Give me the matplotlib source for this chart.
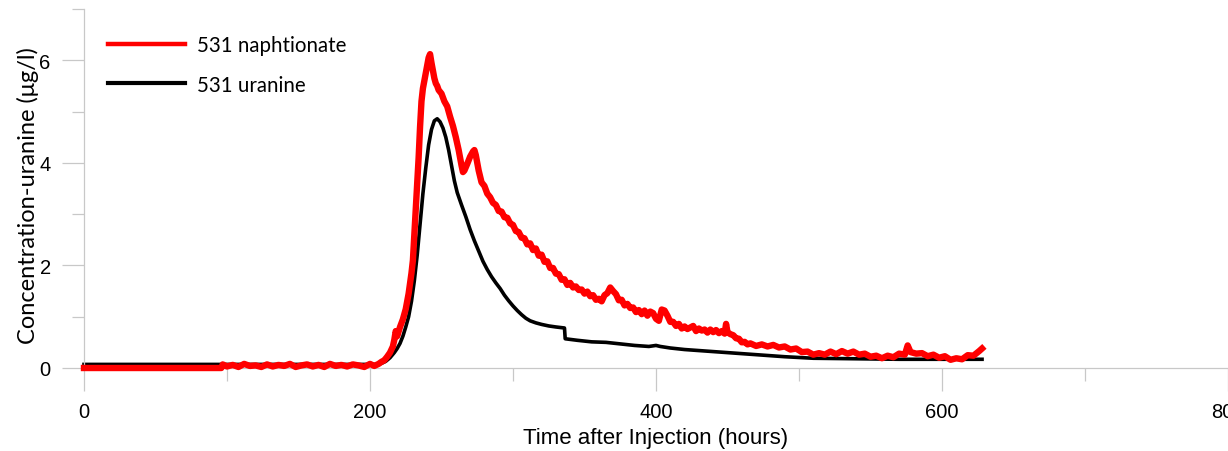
import matplotlib
matplotlib.use("Agg")
import matplotlib.pyplot as plt
from matplotlib.ticker import MultipleLocator
from matplotlib.lines import Line2D

# ---------------- data ----------------
series_names = ["531 naphtionate", "531 uranine"]

naph_hours = [0, 96, 97, 100, 104, 108, 112, 116, 120, 124, 128, 132, 136, 140, 144,
              148, 152, 156, 160, 164, 168, 172, 176, 180, 184, 188, 192, 196, 200, 203,
              206, 208, 210, 212, 214, 216, 217, 218, 219, 221, 223, 225, 227, 229, 230,
              231, 232, 233, 234, 235, 236, 237, 238, 239, 240, 241, 242, 243, 244, 245,
              246, 247, 248, 250, 252, 254, 256, 258, 260, 262, 264, 265, 266, 268, 270,
              272, 273, 274, 276, 278, 280, 282, 284, 286, 288, 290, 292, 294, 296, 298,
              300, 302, 304, 306, 308, 310, 312, 314, 316, 318, 320, 322, 324, 326, 328,
              330, 332, 334, 336, 338, 340, 342, 344, 346, 348, 350, 352, 354, 356, 358,
              360, 362, 364, 366, 368, 370, 372, 374, 376, 378, 380, 382, 384, 386, 388,
              390, 392, 394, 396, 398, 400, 402, 404, 406, 408, 410, 412, 414, 416, 418,
              420, 422, 424, 426, 428, 430, 432, 434, 436, 438, 440, 442, 444, 446, 448,
              449, 450, 452, 454, 456, 458, 460, 462, 464, 466, 470, 474, 478, 482, 486,
              490, 494, 498, 502, 506, 510, 514, 518, 522, 526, 530, 534, 538, 542, 546,
              550, 554, 558, 562, 566, 570, 574, 576, 578, 582, 586, 590, 594, 598, 602,
              606, 610, 614, 618, 622, 626, 628]
naph_conc = [0.0, 0.0, 0.07, 0.03, 0.06, 0.02, 0.08, 0.04, 0.05, 0.02, 0.07, 0.03, 0.06, 0.04, 0.08,
             0.02, 0.05, 0.07, 0.03, 0.06, 0.02, 0.08, 0.04, 0.06, 0.03, 0.07, 0.05, 0.02, 0.08, 0.04,
             0.08, 0.12, 0.15, 0.22, 0.30, 0.42, 0.55, 0.72, 0.62, 0.80, 0.95, 1.15, 1.45, 1.85, 2.10,
             2.60, 3.10, 3.60, 4.10, 4.70, 5.20, 5.45, 5.60, 5.75, 5.90, 6.05, 6.12, 5.95, 5.80, 5.65,
             5.55, 5.50, 5.42, 5.35, 5.20, 5.10, 4.90, 4.72, 4.50, 4.25, 3.95, 3.82, 3.85, 3.98, 4.12,
             4.22, 4.25, 4.15, 3.85, 3.62, 3.55, 3.40, 3.33, 3.22, 3.18, 3.06, 3.05, 2.94, 2.93, 2.82,
             2.79, 2.67, 2.65, 2.54, 2.53, 2.41, 2.43, 2.30, 2.33, 2.19, 2.21, 2.07, 2.08, 1.95, 1.95,
             1.84, 1.83, 1.72, 1.73, 1.62, 1.66, 1.57, 1.59, 1.52, 1.53, 1.45, 1.49, 1.40, 1.42, 1.33,
             1.35, 1.30, 1.42, 1.46, 1.57, 1.50, 1.44, 1.32, 1.33, 1.22, 1.25, 1.17, 1.18, 1.09, 1.13,
             1.05, 1.12, 1.02, 1.10, 1.07, 0.96, 0.92, 1.14, 1.12, 1.02, 0.90, 0.90, 0.82, 0.86, 0.77,
             0.81, 0.76, 0.79, 0.82, 0.72, 0.77, 0.73, 0.75, 0.69, 0.75, 0.70, 0.74, 0.68, 0.72, 0.67,
             0.86, 0.70, 0.66, 0.64, 0.58, 0.57, 0.50, 0.51, 0.46, 0.48, 0.43, 0.46, 0.42, 0.45, 0.40,
             0.42, 0.36, 0.38, 0.31, 0.32, 0.26, 0.29, 0.26, 0.32, 0.27, 0.33, 0.28, 0.32, 0.26, 0.28,
             0.22, 0.24, 0.19, 0.24, 0.21, 0.28, 0.26, 0.44, 0.31, 0.28, 0.29, 0.23, 0.26, 0.20, 0.23,
             0.16, 0.19, 0.17, 0.25, 0.24, 0.33, 0.38]

uran_hours = [0, 205, 208, 211, 214, 217, 219, 221, 223, 225, 227, 229, 231, 233, 235,
              237, 239, 241, 243, 245, 247, 249, 251, 253, 255, 257, 259, 261, 264, 267,
              270, 273, 276, 279, 282, 285, 288, 291, 294, 297, 300, 303, 306, 309, 312,
              316, 320, 325, 330, 336, 336.5, 345, 355, 365, 375, 385, 395, 400, 403, 410,
              420, 430, 445, 460, 475, 490, 510, 540, 570, 600, 628]
uran_conc = [0.07, 0.07, 0.09, 0.13, 0.20, 0.30, 0.38, 0.48, 0.62, 0.80, 1.00, 1.30, 1.70, 2.20, 2.80,
             3.40, 3.90, 4.35, 4.65, 4.82, 4.86, 4.80, 4.68, 4.50, 4.25, 3.95, 3.65, 3.42, 3.18, 2.95,
             2.70, 2.48, 2.28, 2.08, 1.92, 1.78, 1.66, 1.55, 1.42, 1.31, 1.21, 1.12, 1.04, 0.97, 0.92,
             0.88, 0.85, 0.82, 0.80, 0.78, 0.57, 0.54, 0.51, 0.50, 0.47, 0.44, 0.42, 0.44, 0.42, 0.39,
             0.36, 0.34, 0.31, 0.28, 0.25, 0.22, 0.19, 0.18, 0.17, 0.17, 0.17]

x_ticks = [0, 200, 400, 600, 800]
y_ticks = [0, 2, 4, 6]
x_label = "Time after Injection (hours)"
y_label = "Concentration-uranine (\u03bcg/l)"

# ---------------- figure ----------------
W, H = 1228, 452
fig = plt.figure(figsize=(W / 100, H / 100), dpi=100)
ax = fig.add_axes([84 / W, 1 - 369 / H, (1228 - 84) / W, (369 - 10) / H])

grey = "#c8c8c8"
red = "#ff0000"
ax.plot(uran_hours, uran_conc, color="black", lw=2.6, clip_on=False, zorder=2,
        solid_joinstyle="round")
ax.plot(naph_hours, naph_conc, color=red, lw=4.6, clip_on=False, zorder=3,
        solid_joinstyle="round")

ax.set_xlim(0, 800)
ax.set_ylim(0, 7)
ax.set_xticks(x_ticks)
ax.set_yticks(y_ticks)
ax.xaxis.set_minor_locator(MultipleLocator(100))
ax.yaxis.set_minor_locator(MultipleLocator(1))

for s in ["top", "right"]:
    ax.spines[s].set_visible(False)
for s in ["left", "bottom"]:
    ax.spines[s].set_color(grey)
    ax.spines[s].set_linewidth(0.9)

ax.tick_params(axis="both", which="major", direction="out", color=grey, width=0.9,
               labelsize=14.5, labelcolor="black")
ax.tick_params(axis="x", which="major", length=16.5, pad=8)
ax.tick_params(axis="x", which="minor", length=9, color=grey, width=0.9)
ax.tick_params(axis="y", which="major", length=16, pad=8)
ax.tick_params(axis="y", which="minor", length=8.5, color=grey, width=0.9)
for lab in ax.get_xticklabels() + ax.get_yticklabels():
    lab.set_fontfamily("Liberation Sans")

fig.text(656 / W, 1 - 439 / H, x_label, ha="center", va="center",
         fontsize=16, family="Liberation Sans")
fig.text(28 / W, 1 - 196 / H, y_label, ha="center", va="center", rotation=90,
         fontsize=17, family="Lato")

handles = [Line2D([], [], color=red, lw=3.2), Line2D([], [], color="black", lw=3.0)]
leg = ax.legend(handles, series_names, loc="upper left",
                bbox_to_anchor=(108 / W, 1 - 36 / H), bbox_transform=fig.transFigure,
                frameon=False, handlelength=3.75, handletextpad=0.6, labelspacing=0.95,
                borderaxespad=0, borderpad=0.0,
                prop={"family": "Lato", "size": 14.8})

fig.savefig("out.png", dpi=100)
